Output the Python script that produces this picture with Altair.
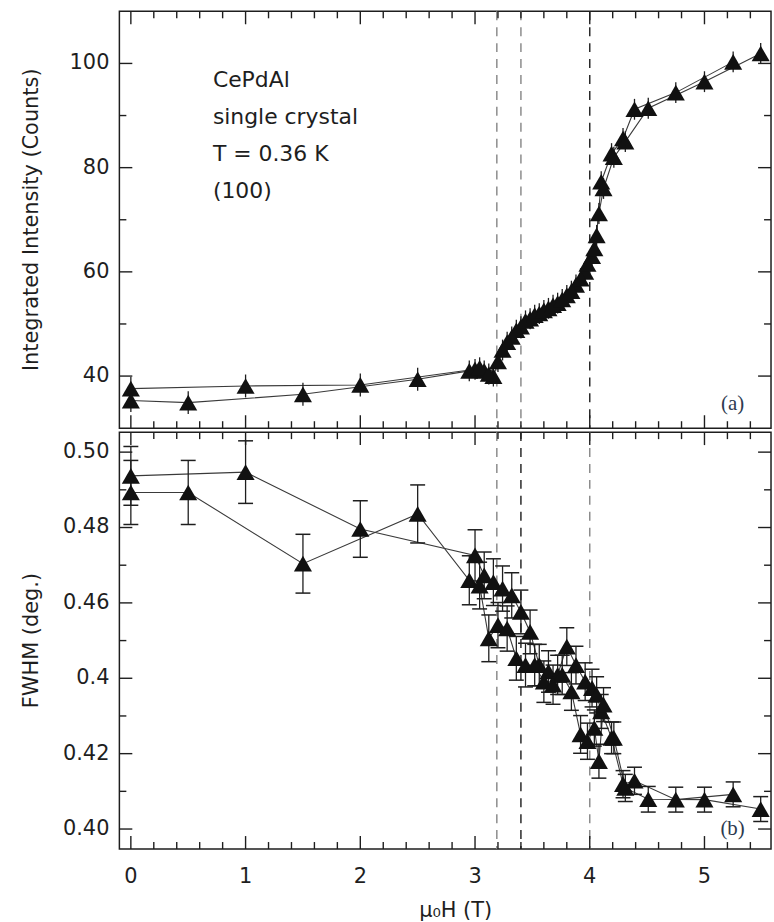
import altair as alt
import pandas as pd

# ---------------- data ----------------
H_up = [0.0, 1.0, 2.0, 3.00, 3.08, 3.16, 3.24, 3.32, 3.40, 3.48, 3.56, 3.64, 3.72,
        3.80, 3.88, 3.96, 4.02, 4.06, 4.10, 4.19, 4.29, 4.39, 4.75, 5.25]
H_down = [0.0, 0.5, 1.5, 2.5, 2.95, 3.04, 3.12, 3.20, 3.28, 3.36, 3.44, 3.52, 3.60,
          3.68, 3.76, 3.84, 3.92, 3.98, 4.04, 4.08, 4.12, 4.21, 4.31, 4.51, 5.00, 5.49]

intensity_up = [37.6, 38.1, 38.3, 41.3, 41.0, 40.0, 45.0, 47.5, 49.5, 51.0, 52.0, 53.0, 54.0,
                55.5, 57.5, 60.0, 63.0, 67.0, 77.3, 82.7, 85.6, 91.2, 94.4, 100.3]
intensity_down = [35.3, 34.9, 36.5, 39.4, 41.0, 41.6, 40.4, 42.8, 46.5, 48.8, 50.6, 51.7, 52.6,
                  53.6, 54.7, 56.3, 58.7, 61.5, 64.5, 71.2, 76.0, 82.0, 85.0, 91.4, 96.5, 101.9]
intensity_err_up = [2.2, 2.2, 2.2, 2.0, 2.0, 2.0, 2.0, 2.0, 2.0, 2.0, 2.0, 2.0, 2.0,
                    2.0, 2.0, 2.0, 2.0, 2.0, 2.0, 2.0, 2.0, 2.0, 2.0, 2.0]
intensity_err_down = [2.2, 2.2, 2.2, 2.2, 2.0, 2.0, 2.0, 2.0, 2.0, 2.0, 2.0, 2.0, 2.0,
                      2.0, 2.0, 2.0, 2.0, 2.0, 2.0, 2.0, 2.0, 2.0, 2.0, 2.0, 2.0, 2.0]

fwhm_up = [0.4937, 0.4947, 0.4796, 0.4726, 0.4673, 0.4655, 0.4638, 0.4620, 0.4576, 0.4523,
           0.4435, 0.4418, 0.4409, 0.4484, 0.4435, 0.4391, 0.4374, 0.4356, 0.4312, 0.4242,
           0.4119, 0.4128, 0.4078, 0.4092]
fwhm_down = [0.4893, 0.4893, 0.4704, 0.4836, 0.4660, 0.4646, 0.4506, 0.4541, 0.4532, 0.4453,
             0.4435, 0.4435, 0.4391, 0.4383, 0.4409, 0.4365, 0.4251, 0.4233, 0.4268, 0.4180,
             0.4330, 0.4242, 0.4109, 0.4079, 0.4078, 0.4053]
fwhm_err_up = [0.0078, 0.0083, 0.0075, 0.0068, 0.0062, 0.0062, 0.0060, 0.0060, 0.0058, 0.0058,
               0.0055, 0.0055, 0.0052, 0.0050, 0.0050, 0.0050, 0.0050, 0.0048, 0.0045, 0.0042,
               0.0036, 0.0036, 0.0033, 0.0033]
fwhm_err_down = [0.0085, 0.0085, 0.0078, 0.0077, 0.0065, 0.0062, 0.0062, 0.0060, 0.0060, 0.0058,
                 0.0058, 0.0055, 0.0055, 0.0052, 0.0052, 0.0050, 0.0050, 0.0048, 0.0048, 0.0045,
                 0.0045, 0.0042, 0.0036, 0.0034, 0.0033, 0.0033]

transition_fields = [3.19, 3.40, 4.00]
annotation_lines = ["CePdAl", "single crystal", "T = 0.36 K", "(100)"]

# tick positions and tick labels (as printed in the figure)
x_major = [0, 1, 2, 3, 4, 5]
x_labels = ["0", "1", "2", "3", "4", "5"]
x_minor = [0.2, 0.4, 0.6, 0.8, 1.2, 1.4, 1.6, 1.8, 2.2, 2.4, 2.6, 2.8, 3.2, 3.4,
           3.6, 3.8, 4.2, 4.4, 4.6, 4.8, 5.2, 5.4]
int_major = [40, 60, 80, 100]
int_labels = ["40", "60", "80", "100"]
int_minor = [50, 70, 90]
fwhm_major = [0.40, 0.42, 0.44, 0.46, 0.48, 0.50]
fwhm_labels = ["0.40", "0.42", "0.4", "0.46", "0.48", "0.50"]
fwhm_minor = [0.41, 0.43, 0.45, 0.47, 0.49]

# ---------------- styling ----------------
FONT = "DejaVu Sans"
INK = "#1e1e1e"
W, HGT = 655, 419
MAJOR, MINOR = 13, 7

xs = alt.Scale(domain=[-0.1, 5.58], nice=False, zero=False)
ys_top = alt.Scale(domain=[30, 110], nice=False, zero=False)
ys_bot = alt.Scale(domain=[0.3947, 0.5053], nice=False, zero=False)


def make_df(v_up, v_down, e_up, e_down):
    df = pd.DataFrame({
        "H": H_up + H_down,
        "v": v_up + v_down,
        "e": e_up + e_down,
        "series": ["up"] * len(H_up) + ["down"] * len(H_down),
        "idx": list(range(len(H_up))) + list(range(len(H_down))),
    })
    df["lo"] = df["v"] - df["e"]
    df["hi"] = df["v"] + df["e"]
    return df


top_df = make_df(intensity_up, intensity_down, intensity_err_up, intensity_err_down)
bot_df = make_df(fwhm_up, fwhm_down, fwhm_err_up, fwhm_err_down)
caps_df = pd.concat([
    bot_df[["H", "lo"]].rename(columns={"lo": "c"}),
    bot_df[["H", "hi"]].rename(columns={"hi": "c"}),
])
rules_df = pd.DataFrame({"H": transition_fields})
one = pd.DataFrame({"k": [0]})


def panel(df, ys, y_major, y_minor, y_labels, y_title, dark_rule, tag, tag_y,
          note=False, caps=False, x_axis_text=False):
    X = lambda f: alt.X(f, scale=xs, axis=None)
    Y = lambda f: alt.Y(f, scale=ys, axis=None)
    layers = []
    layers.append(alt.Chart(df).mark_line(color="#3a3a3a", strokeWidth=1.1).encode(
        x=X("H:Q"), y=Y("v:Q"), detail="series:N", order="idx:Q"))
    layers.append(alt.Chart(rules_df).mark_rule(strokeDash=[9, 7], strokeWidth=1.5).encode(
        x=X("H:Q"),
        color=alt.condition(f"abs(datum.H - {dark_rule}) < 0.001",
                            alt.value("#2a2a2a"), alt.value("#8c8c8c"))))
    layers.append(alt.Chart(df).mark_rule(color=INK, strokeWidth=1.3).encode(
        x=X("H:Q"), y=Y("lo:Q"), y2="hi:Q"))
    if caps:
        layers.append(alt.Chart(caps_df).mark_tick(orient="horizontal", size=15, thickness=1.5,
                                                   color=INK, opacity=1).encode(
            x=X("H:Q"), y=Y("c:Q")))
    layers.append(alt.Chart(df).mark_point(shape="triangle-up", filled=True, size=330,
                                           color="#111111", opacity=1).encode(
        x=X("H:Q"), y=Y("v:Q")))
    if note:
        layers.append(alt.Chart(one).mark_text(align="left", baseline="top", font=FONT,
                                               fontSize=22, lineHeight=37, color=INK).encode(
            x=alt.XDatum(0.715, scale=xs, axis=None),
            y=alt.YDatum(98.7, scale=ys, axis=None),
            text=alt.value(annotation_lines)))
    layers.append(alt.Chart(one).mark_text(font="Liberation Serif", fontSize=21,
                                           color="#2d3a4f", align="center",
                                           baseline="middle").encode(
        x=alt.XDatum(5.245, scale=xs, axis=None),
        y=alt.YDatum(tag_y, scale=ys, axis=None),
        text=alt.value(tag)))

    # inward tick marks on all four frame edges, positioned through the scales
    for vals, length in ((x_major, MAJOR), (x_minor, MINOR)):
        tdf = pd.DataFrame({"t": vals})
        for y0, y1 in ((0, length), (HGT, HGT - length)):
            layers.append(alt.Chart(tdf).mark_rule(color=INK, strokeWidth=1.4).encode(
                x=X("t:Q"), y=alt.value(y0), y2=alt.value(y1)))
    for vals, length in ((y_major, MAJOR), (y_minor, MINOR)):
        tdf = pd.DataFrame({"t": vals})
        for x0, x1 in ((0, length), (W, W - length)):
            layers.append(alt.Chart(tdf).mark_rule(color=INK, strokeWidth=1.4).encode(
                y=Y("t:Q"), x=alt.value(x0), x2=alt.value(x1)))

    # tick labels and axis titles
    layers.append(alt.Chart(pd.DataFrame({"t": y_major, "label": y_labels})).mark_text(
        align="right", baseline="middle", font=FONT, fontSize=21, color=INK).encode(
        y=Y("t:Q"), x=alt.value(-10), text="label:N"))
    layers.append(alt.Chart(one).mark_text(
        align="center", baseline="middle", angle=270, font=FONT, fontSize=21,
        color=INK).encode(x=alt.value(-88), y=alt.value(HGT / 2), text=alt.value(y_title)))
    if x_axis_text:
        layers.append(alt.Chart(pd.DataFrame({"t": x_major, "label": x_labels})).mark_text(
            align="center", baseline="top", font=FONT, fontSize=21, color=INK).encode(
            x=X("t:Q"), y=alt.value(HGT + 17), text="label:N"))
        layers.append(alt.Chart(one).mark_text(
            align="center", baseline="top", font=FONT, fontSize=21, color=INK).encode(
            x=alt.value(338), y=alt.value(HGT + 51), text=alt.value("μ₀H (T)")))
    return alt.layer(*layers).properties(width=W, height=HGT)


top = panel(top_df, ys_top, int_major, int_minor, int_labels,
            "Integrated Intensity (Counts)", 4.0, "(a)", 34.7, note=True)
bottom = panel(bot_df, ys_bot, fwhm_major, fwhm_minor, fwhm_labels,
               "FWHM (deg.)", 3.4, "(b)", 0.400, caps=True, x_axis_text=True)

chart = alt.vconcat(top, bottom, spacing=0).properties(
    padding={"left": 20, "top": 7, "right": 1, "bottom": 2}
).configure(font=FONT, background="white").configure_view(stroke=INK, strokeWidth=1.5)

chart.save("out.html", embed_options={"renderer": "svg", "actions": False})
